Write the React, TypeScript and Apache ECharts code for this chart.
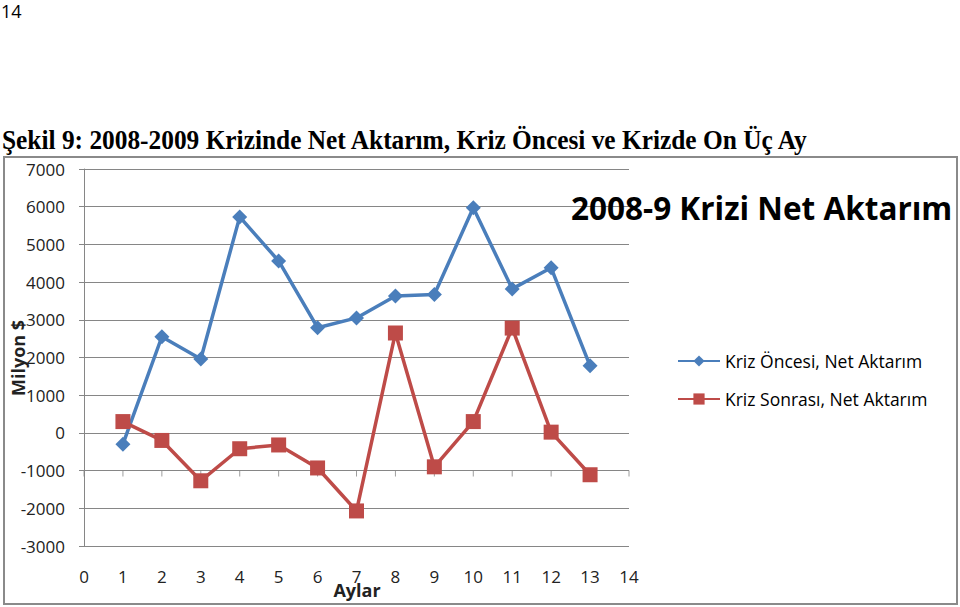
import React, { useEffect, useRef } from "react";
import * as echarts from "echarts";

const months = [1, 2, 3, 4, 5, 6, 7, 8, 9, 10, 11, 12, 13];
const oncesi = [-300, 2550, 1960, 5730, 4560, 2790, 3050, 3630, 3670, 5970, 3820, 4380, 1780];
const sonrasi = [300, -200, -1270, -420, -320, -930, -2070, 2650, -900, 300, 2780, 20, -1110];
const xTicks = [0, 1, 2, 3, 4, 5, 6, 7, 8, 9, 10, 11, 12, 13, 14];
const seriesNames = ["Kriz Öncesi, Net Aktarım", "Kriz Sonrası, Net Aktarım"];
const chartTitle = "2008-9 Krizi Net Aktarım";
const pageNumber = "14";
const figureCaption = "Şekil 9: 2008-2009 Krizinde Net Aktarım, Kriz Öncesi ve Krizde On Üç Ay";
const xName = "Aylar";
const yName = "Milyon $";

const FONT = "'Open Sans', sans-serif";
const GRID = "#868686";

export default function App() {
  const ref = useRef<HTMLDivElement>(null);
  useEffect(() => {
    const chart = echarts.init(ref.current!, null, { renderer: "svg" });
    chart.setOption({
      animation: false,
      backgroundColor: "#fff",
      title: {
        text: chartTitle,
        left: 566,
        top: 186,
        textStyle: { fontFamily: FONT, fontWeight: "bold", fontSize: 31.5, color: "#000" },
      },
      legend: {
        data: seriesNames,
        orient: "vertical",
        left: 672,
        top: 347,
        itemWidth: 42,
        itemHeight: 14,
        itemGap: 20,
        textStyle: { fontFamily: FONT, fontSize: 17.5, color: "#000" },
      },
      grid: { left: 84, right: 331, top: 169, bottom: 61, containLabel: false },
      xAxis: {
        type: "value",
        min: 0,
        max: 14,
        interval: 1,
        axisLine: { show: false },
        axisTick: { show: false },
        splitLine: { show: false },
        axisLabel: { fontFamily: FONT, fontSize: 17, color: "#222", margin: 22 },
      },
      yAxis: {
        type: "value",
        min: -3000,
        max: 7000,
        interval: 1000,
        axisLine: { show: true, lineStyle: { color: GRID, width: 1 } },
        axisTick: { show: true, length: 5, lineStyle: { color: GRID } },
        splitLine: { show: true, lineStyle: { color: GRID, width: 1 } },
        axisLabel: {
          fontFamily: FONT,
          fontSize: 17,
          color: "#222",
          margin: 19,
          formatter: (v: number) => String(v),
        },
      },
      series: [
        {
          name: "ticks",
          type: "scatter",
          silent: true,
          data: xTicks.map((x) => [x, -1000]),
          symbol: "rect",
          symbolSize: [1, 6],
          symbolOffset: [0, 3],
          itemStyle: { color: GRID },
          z: 1,
        },
        {
          name: seriesNames[0],
          type: "line",
          data: months.map((m, i) => [m, oncesi[i]]),
          symbol: "diamond",
          symbolSize: 15,
          color: "#4A7EBB",
          lineStyle: { width: 3.5, color: "#4A7EBB" },
          itemStyle: { color: "#4A7EBB" },
          z: 3,
        },
        {
          name: seriesNames[1],
          type: "line",
          data: months.map((m, i) => [m, sonrasi[i]]),
          symbol: "rect",
          symbolSize: 15,
          color: "#BE4B48",
          lineStyle: { width: 3.5, color: "#BE4B48" },
          itemStyle: { color: "#BE4B48" },
          z: 4,
        },
      ],
      graphic: [
        {
          type: "rect",
          shape: { x: 4, y: 157, width: 953, height: 447 },
          style: { fill: "none", stroke: "#8a8a8a", lineWidth: 2 },
          z: -1,
        },
        {
          type: "text",
          x: 1,
          y: 2,
          style: { text: pageNumber, fontFamily: FONT, fontSize: 18, fill: "#000" },
        },
        {
          type: "text",
          x: 2,
          y: 127,
          scaleX: 0.94,
          style: { text: figureCaption, fontFamily: "'Liberation Serif', serif", fontWeight: "bold", fontSize: 27, fill: "#000" },
        },
        {
          type: "text",
          x: 357,
          y: 590,
          style: { text: xName, fontFamily: FONT, fontWeight: "bold", fontSize: 18, fill: "#222", align: "center", verticalAlign: "middle" },
        },
        {
          type: "text",
          x: 18,
          y: 358,
          rotation: Math.PI / 2,
          style: { text: yName, fontFamily: FONT, fontWeight: "bold", fontSize: 18, fill: "#222", align: "center", verticalAlign: "middle" },
        },
      ],
    });
    return () => chart.dispose();
  }, []);
  return <div ref={ref} style={{ position: "fixed", left: 0, top: 0, width: 960, height: 607 }} />;
}
